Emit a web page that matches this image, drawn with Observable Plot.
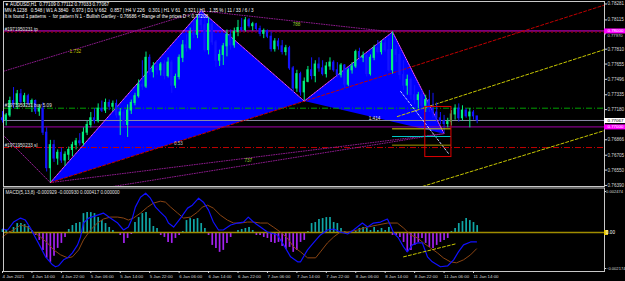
<!DOCTYPE html>
<html><head><meta charset="utf-8">
<script src="https://cdn.jsdelivr.net/npm/d3@7"></script>
<script src="https://cdn.jsdelivr.net/npm/@observablehq/plot@0.6"></script>
<style>
html,body{margin:0;padding:0;background:#000;}
#chart{position:relative;width:625px;height:281px;background:#000;overflow:hidden;}
#chart svg{position:absolute;left:0;display:block;}
</style></head><body><div id="chart"></div>
<script>
// ---------- candle data (AUDUSD H1, bar index 0 = 4 Jan 06:00) ----------
const opens = [.7709,.7707,.7712,.7727,.7723,.7734,.7726,.7732,.7724,.7727,
.7716,.7719,.7694,.7657,.7681,.7667,.7673,.7665,.7671,.7676,
.7681,.7685,.7683,.7694,.7702,.7709,.7706,.7719,.7717,.7725,
.7721,.7724,.7712,.7715,.7702,.7717,.7725,.7732,.7744,.7742,
.7772,.7757,.7763,.7759,.7765,.7753,.7767,.7743,.7752,.7772,
.7785,.7782,.7799,.7796,.7811,.7806,.7780,.7807,.7788,.7769,
.7775,.7784,.7796,.7785,.7799,.7803,.7801,.7811,.7805,.7807,
.7802,.7797,.7800,.7794,.7781,.7789,.7784,.7778,.7782,.7761,
.7740,.7755,.7736,.7747,.7759,.7753,.7765,.7761,.7755,.7763,
.7767,.7759,.7754,.7764,.7744,.7759,.7763,.7778,.7772,.7774,
.7755,.7772,.7782,.7778,.7787,.7780,.7759,.7780,.7775,.7754,
.7743,.7749,.7733,.7728,.7733,.7722,.7728,.7719,.7715,.7709,
.7706,.7703,.7705,.7713,.7719,.7709,.7717,.7711,.7715,.77109];
const highs = [.7716,.7714,.7731,.7741,.7738,.7739,.7735,.7734,.7729,.7728,
.7723,.7725,.7699,.7686,.7686,.7676,.7678,.7674,.7679,.7684,
.7688,.7693,.7699,.7706,.7715,.7719,.7724,.7727,.7729,.7728,
.7727,.7728,.7719,.7717,.7723,.7728,.7735,.7749,.7769,.7778,
.7775,.7767,.7769,.7767,.7769,.7772,.7769,.7755,.7775,.7790,
.7796,.7803,.7811,.7816,.7821,.7813,.7814,.7809,.7790,.7780,
.7787,.7801,.7801,.7803,.7811,.7813,.7814,.7813,.7809,.7808,
.7805,.7802,.7801,.7799,.7792,.7792,.7790,.7785,.7784,.7763,
.7759,.7757,.7751,.7763,.7772,.7769,.7772,.7769,.7767,.7772,
.7769,.7767,.7766,.7765,.7761,.7767,.7780,.7782,.7778,.7776,
.7775,.7785,.7790,.7790,.7792,.7792,.7799,.7785,.7780,.7769,
.7754,.7751,.7743,.7736,.7738,.7733,.7738,.7735,.7725,.7715,
.7712,.7709,.7717,.7723,.7724,.7722,.7719,.7719,.7717,.77112];
const lows = [.7704,.7701,.7710,.7719,.7718,.7724,.7721,.7722,.7715,.7713,
.7711,.7691,.7653,.7642,.7663,.7660,.7662,.7659,.7665,.7669,
.7676,.7680,.7680,.7691,.7699,.7703,.7704,.7715,.7714,.7717,
.7716,.7709,.7691,.7699,.7689,.7713,.7722,.7730,.7738,.7740,
.7754,.7751,.7754,.7753,.7749,.7751,.7735,.7740,.7749,.7767,
.7778,.7780,.7792,.7792,.7801,.7778,.7775,.7785,.7762,.7763,
.7764,.7773,.7780,.7782,.7794,.7799,.7799,.7803,.7800,.7800,
.7794,.7792,.7792,.7778,.7778,.7780,.7775,.7774,.7759,.7735,
.7736,.7732,.7727,.7746,.7749,.7746,.7757,.7753,.7751,.7759,
.7757,.7751,.7751,.7740,.7742,.7755,.7761,.7769,.7767,.7752,
.7753,.7769,.7776,.7775,.7778,.7757,.7755,.7767,.7749,.7738,
.7733,.7728,.7723,.7719,.7717,.7715,.7715,.7709,.7705,.7702,
.7693,.7699,.7701,.7707,.7705,.7706,.7709,.7699,.7707,.77033];
const closes = [.7707,.7712,.7727,.7723,.7734,.7726,.7732,.7724,.7727,.7716,
.7719,.7694,.7657,.7681,.7667,.7673,.7665,.7671,.7676,.7681,
.7685,.7683,.7694,.7702,.7709,.7706,.7719,.7717,.7725,.7721,
.7724,.7712,.7715,.7702,.7717,.7725,.7732,.7744,.7742,.7772,
.7757,.7763,.7759,.7765,.7753,.7767,.7743,.7752,.7772,.7785,
.7782,.7799,.7796,.7811,.7806,.7780,.7807,.7788,.7769,.7775,
.7784,.7796,.7785,.7799,.7803,.7801,.7811,.7805,.7807,.7802,
.7797,.7800,.7794,.7781,.7789,.7784,.7778,.7782,.7761,.7740,
.7755,.7736,.7747,.7759,.7753,.7765,.7761,.7755,.7763,.7767,
.7759,.7754,.7764,.7744,.7759,.7763,.7778,.7772,.7774,.7755,
.7772,.7782,.7778,.7787,.7780,.7759,.7780,.7775,.7754,.7743,
.7749,.7733,.7728,.7733,.7722,.7728,.7719,.7715,.7709,.7706,
.7703,.7705,.7713,.7719,.7709,.7717,.7711,.7715,.7711,.77067];

// ---------- MACD data ----------
const hist = [0.00018,0.00012,0.00006,0.0003,0.00054,0.00054,0.00048,0.00036,0.00012,-0.00018,
-0.00048,-0.00108,-0.00156,-0.0018,-0.00144,-0.00096,-0.00066,-0.0003,0.00018,0.00042,
0.00054,0.0006,0.00114,0.0012,0.0012,0.00114,0.0009,0.00072,0.00054,0.0003,
0.00012,-0.00006,-0.00018,-0.00066,-0.00036,-0.00012,0.0006,0.0009,0.00114,0.0012,
0.00084,0.00036,0.00024,-0.00018,-0.0003,-0.0006,-0.00066,-0.00036,-0.00018,0.00006,
0.00072,0.00084,0.00078,0.00084,0.00054,0.00024,-0.00018,-0.00078,-0.00096,-0.0012,
-0.00108,-0.00066,-0.0003,-0.00006,0.00012,0.00018,0.00024,0.0003,0.00012,-0.00018,
-0.00018,-0.0003,-0.00036,-0.0006,-0.00066,-0.0006,-0.00084,-0.00102,-0.0009,-0.0012,
-0.00108,-0.0006,-0.00048,0.00006,0.00054,0.0006,0.00078,0.00084,0.0009,0.0009,
0.0006,0.00054,0.00024,0.00006,0,-0.00006,0.00006,0.00024,0.0003,0.00024,
0.00012,0.0003,0.00012,0.00024,0.00012,0.0003,-0.00018,-0.00018,-0.0003,-0.0006,
-0.0012,-0.00108,-0.00078,-0.0006,-0.00036,-0.00066,-0.0009,-0.00096,-0.00078,-0.0006,
-0.00048,-0.00036,0.00006,0.00024,0.00054,0.00066,0.00084,0.00072,0.0006,0.000417];
const macdMain = [[0,0.00021],[1.4,0.00015],[3,0.00063],[4.9,0.00087],[6.2,0.00075],[7.6,0.00027],[9,-0.00033],[10.3,-0.00087],[11.7,-0.00147],[13.6,-0.00195],[14.4,-0.00207],[15.2,-0.00201],[16.6,-0.00165],[17.7,-0.00153],[19,-0.00123],[20.4,-0.00075],[21.2,-0.00027],[22,0.00057],[23.4,0.00087],[25.8,0.00105],[27.4,0.00117],[29.3,0.00087],[31.3,0.00057],[32.9,0.00015],[34.2,0.00033],[35.3,0.00087],[36.1,0.00153],[37.5,0.00213],[38.9,0.00237],[40.2,0.00207],[41.6,0.00153],[42.9,0.00123],[44.3,0.00093],[45.1,0.00057],[46.5,0.00033],[48.4,0.00087],[50.3,0.00147],[51.6,0.00165],[53.3,0.00207],[54.6,0.00183],[56,0.00135],[57.3,0.00063],[58.7,0.00015],[60,0.00015],[62,0.00045],[63.9,0.00057],[65.5,0.00063],[66.8,0.00093],[68.2,0.00063],[70.1,0.00033],[72,0.00003],[74.7,-0.00015],[76.4,-0.00075],[78.3,-0.00147],[80.2,-0.00177],[81,-0.00177],[82.9,-0.00105],[84.5,-0.00063],[86.4,-0.00015],[88.3,0.00015],[90,0.00021],[91.8,0.00003],[93.8,-0.00009],[95.4,0.00015],[97.8,0.00057],[99.2,0.00033],[100.8,0.00057],[102.7,0.00063],[104.6,0.00081],[105.4,0.00045],[106.3,-0.00003],[107.6,-0.00033],[109,-0.00087],[110,-0.00117],[111.4,-0.00075],[112.8,-0.00063],[114.1,-0.00063],[115.5,-0.00147],[116.8,-0.00177],[119,-0.00207],[121,-0.00201],[122.6,-0.00165],[123.9,-0.00117],[125.3,-0.00075],[127.2,-0.00057],[128.8,-0.00057]];
const macdSignal = [[0,-0.00027],[1.4,-0.00003],[3,0.00015],[4.9,0.00045],[6.8,0.00033],[8.4,0.00003],[10.3,-0.00027],[12.2,-0.00063],[13.9,-0.00105],[15.8,-0.00135],[17.7,-0.00153],[19,-0.00147],[20.7,-0.00105],[22,-0.00045],[23.9,0.00015],[25.8,0.00057],[27.4,0.00081],[29.3,0.00093],[31.3,0.00093],[32.9,0.00087],[34.2,0.00075],[35.6,0.00087],[37.5,0.00117],[39.4,0.00153],[41,0.00177],[42.9,0.00189],[44.3,0.00183],[45.7,0.00153],[47.6,0.00117],[49.2,0.00087],[51.1,0.00093],[53,0.00123],[54.3,0.00153],[55.7,0.00165],[57.3,0.00147],[59.2,0.00105],[61.1,0.00075],[62.8,0.00057],[64.7,0.00057],[66.6,0.00063],[68.2,0.00063],[70.1,0.00057],[72,0.00057],[73.6,0.00033],[75.5,0.00003],[77.4,-0.00033],[79.1,-0.00087],[81,-0.00117],[82.9,-0.00153],[85.1,-0.00153],[86.4,-0.00117],[88.3,-0.00063],[90,-0.00027],[91.8,0.00003],[93.8,0.00003],[96.5,0.00015],[99.2,0.00033],[101.9,0.00045],[104.6,0.00057],[107.3,0.00057],[109,0.00027],[110.9,-0.00015],[112.8,-0.00033],[114.4,-0.00063],[116.3,-0.00093],[118.2,-0.00123],[119.8,-0.00153],[121.7,-0.00177],[123.4,-0.00183],[125.3,-0.00165],[127.2,-0.00135],[128.8,-0.00099]];
const macdDivergence = [[109,-0.00147],[123.1,-0.00069]];

// ---------- pattern / objects ----------
const patBar = [13, 54, 82, 106, 120];           // X A B C D
const patPrice = [0.7642, 0.7821, 0.7727, 0.7799, 0.7693];
const xbLine = [[13, 0.7642], [163.6, 0.7827]];
const channelUpper = [[107.3, 0.77108], [163.6, 0.77806]];
const channelLower = [[114.1, 0.76379], [163.6, 0.76962]];
const dotPre = [[0.3, 0.7691], [13, 0.7642]];
const dotAC = [[0.3, 0.7758], [54, 0.7821], [106, 0.7799]];
const dotXD = [[13, 0.7642], [120, 0.7693]];
const dotLowD = [[30, 0.76379], [120, 0.7693]];
const whiteDash = [[108.2, 0.77369], [121.2, 0.76723]];
const dZoneLevels = [0.7698, 0.7690, 0.7681];
const dZoneColors = ["#d0d000", "#00c8c8", "#a09a00"];
const dZoneBars = [106, 122];
const dBox = {bar1: 114.9, bar2: 122, lo: 0.76686, hi: 0.77208};
const tpLevel = 0.78000, tpOrderLevel = 0.77988, buyLevel = 0.77195, bidLevel = 0.77067, level77 = 0.77000, slLevel = 0.76785;
const fibText = ["1.732", "788", "1.414", "0.53", "737"];
const fibBar = [19.8, 79.9, 101.1, 47.8, 66.8];
const fibPrice = [0.77786, 0.78067, 0.77087, 0.76827, 0.7665];
const fibColor = ["#c8c800", "#9acd32", "#e0e0e0", "#c0c0c0", "#9acd32"];

const priceTicks = [0.78281,0.78115,0.77810,0.77655,0.77496,0.77335,0.77180,0.76866,0.76705,0.76550,0.76390];
const priceTickNearBox = [0.77970];
const priceBoxes = [0.78000, 0.77067, 0.77000];
const priceBoxFill = ["#ff00ff", "#ffffff", "#ff00ff"];
const priceBoxText = ["#ffffff", "#000000", "#ffffff"];
const macdTicks = [0.002474, -0.002174];
const timeTicks = [0,8,16,24,32,40,48,56,64,72,80,88,96,104,112,120,128];
const timeLabels = ["4 Jan 2021","4 Jan 14:00","4 Jan 22:00","5 Jan 06:00","5 Jan 14:00","5 Jan 22:00","6 Jan 06:00","6 Jan 14:00","6 Jan 22:00","7 Jan 06:00","7 Jan 14:00","7 Jan 22:00","8 Jan 06:00","8 Jan 14:00","8 Jan 22:00","11 Jan 06:00","11 Jan 14:00"];
const headerRow1 = "▼ AUDUSD,H1  0.77109 0.77112 0.77033 0.77067";
const headerRow2 = "MN A 1238   0.548 | W1 A 3840   0.973 | D1 V 662   0.857 | H4 V 226   0.301 | H1 V 61   0.321 | H1   1.35 % | 11 / 33 / 6 / 3";
const headerRow3 = "It is found 1 patterns  -  for pattern N 1 - Bullish Gartley - 0.76686 < Range of the prices D < 0.77208";
const macdTitle = "MACD(5,13,8) -0.000929 -0.000930 0.000417 0.000000";

// ---------- drawing ----------
const FONT = "'Liberation Sans', Arial, sans-serif";
const xDomain = [0, 163.6], xRange = [2, 604];
const barPx = (xRange[1] - xRange[0]) / (xDomain[1] - xDomain[0]);
const bars = d3.range(closes.length);
const BULL = "#00f080", BEAR = "#1414ff";
const col = i => closes[i] >= opens[i] ? BULL : BEAR;
const P = i => [patBar[i], patPrice[i]];
const tri1 = [P(0), P(1), P(2)], tri2 = [P(2), P(3), P(4)];
const zig = [0,1,2,3,4].map(P);
const fx = d => d[0], fy = d => d[1];
const f5 = d3.format(".5f");
const fs = 4.6;
const headerMark = (t, dy) => Plot.text([t], {frameAnchor: "top-left", dx: 1, dy, textAnchor: "start", lineAnchor: "middle", fill: "#ffffff", fontSize: fs});

const main = Plot.plot({
  width: 625, height: 187, marginTop: 1, marginBottom: 1, marginLeft: 3, marginRight: 21,
  style: {background: "#000", color: "#d8d8d8", fontFamily: FONT, fontSize: fs + "px", overflow: "visible"},
  x: {domain: xDomain, range: xRange, axis: null},
  y: {domain: [0.76379, 0.78307], range: [186, 1], axis: null},
  marks: [
    Plot.line(tri1, {x: fx, y: fy, fill: "#0000ff", stroke: "none"}),
    Plot.line(tri2, {x: fx, y: fy, fill: "#0000ff", stroke: "none"}),
    Plot.ruleY([tpLevel], {stroke: "#e000e0", strokeWidth: 1}),
    Plot.ruleY([tpOrderLevel], {stroke: "#a00000", strokeDasharray: "2,2"}),
    Plot.ruleY([buyLevel], {stroke: "#00a000", strokeDasharray: "6,2,1,2"}),
    Plot.ruleY([bidLevel], {stroke: "#8a8aa6", strokeWidth: 1}),
    Plot.ruleY([level77], {stroke: "#a000a8", strokeWidth: 1}),
    Plot.ruleY([slLevel], {stroke: "#c00000", strokeDasharray: "6,2,1,2"}),
    Plot.line(dotPre, {x: fx, y: fy, stroke: "#a020a0", strokeDasharray: "1,1.5", strokeWidth: 1}),
    Plot.line(dotAC, {x: fx, y: fy, stroke: "#8a1a8a", strokeDasharray: "1,1.5", strokeWidth: 1}),
    Plot.line(dotXD, {x: fx, y: fy, stroke: "#8a1a8a", strokeDasharray: "1,1.5", strokeWidth: 1}),
    Plot.line(dotLowD, {x: fx, y: fy, stroke: "#8a1a8a", strokeDasharray: "1,1.5", strokeWidth: 1}),
    Plot.line(xbLine, {x: fx, y: fy, stroke: "#c00000", strokeDasharray: "3,2", strokeWidth: 1}),
    Plot.line(channelUpper, {x: fx, y: fy, stroke: "#c8c800", strokeDasharray: "3,2", strokeWidth: 1}),
    Plot.line(channelLower, {x: fx, y: fy, stroke: "#c8c800", strokeDasharray: "3,2", strokeWidth: 1}),
    Plot.line(zig, {x: fx, y: fy, stroke: "#ff50ff", strokeDasharray: "1,1", strokeWidth: 1}),
    Plot.ruleX(bars, {x: i => i, y1: i => lows[i], y2: i => highs[i], stroke: col, strokeWidth: 1}),
    Plot.rect(bars, {x1: i => i - 0.3, x2: i => i + 0.3, y1: i => opens[i], y2: i => closes[i], fill: col, insetTop: -0.5, insetBottom: -0.5}),
    Plot.line(whiteDash, {x: fx, y: fy, stroke: "#c8d0ff", strokeDasharray: "2,2", strokeWidth: 1}),
    Plot.ruleY(dZoneLevels, {y: d => d, x1: dZoneBars[0], x2: dZoneBars[1], stroke: (d, i) => dZoneColors[i], strokeWidth: 1}),
    Plot.rect([dBox], {x1: "bar1", x2: "bar2", y1: "lo", y2: "hi", fill: "none", stroke: "#e00000", strokeWidth: 1}),
    Plot.text(fibText, {x: (d, i) => fibBar[i], y: (d, i) => fibPrice[i], text: d => d, fill: (d, i) => fibColor[i], fontSize: fs}),
    Plot.text(["#1971950231 tp"], {x: 0.6, y: tpLevel, dy: -1.8, textAnchor: "start", fill: "#e0e0e0", fontSize: fs}),
    Plot.text(["#1971950231 buy 5.09"], {x: 0.6, y: buyLevel, dy: -2.5, textAnchor: "start", fill: "#e0e0e0", fontSize: fs}),
    Plot.text(["#1971950233 sl"], {x: 0.6, y: slLevel, dy: -2, textAnchor: "start", fill: "#e0e0e0", fontSize: fs}),
    headerMark(headerRow1, 3.4),
    headerMark(headerRow2, 9.4),
    headerMark(headerRow3, 15),
    Plot.frame({stroke: "#c8c8c8"}),
    Plot.axisY(priceTicks, {anchor: "right", tickSize: 2, tickPadding: 1, tickFormat: f5, fontSize: fs, color: "#d8d8d8"}),
    Plot.ruleY(priceTickNearBox, {y: d => d, x1: xDomain[1], x2: xDomain[1] + 2 / barPx, stroke: "#d8d8d8"}),
    Plot.text(priceTickNearBox, {x: xDomain[1], y: d => d, text: f5, dx: 3, dy: 1.6, textAnchor: "start", fill: "#d8d8d8", fontSize: 4.2}),
    Plot.ruleY(priceBoxes, {y: d => d, x1: xDomain[1], x2: xDomain[1] + 21 / barPx, stroke: (d, i) => priceBoxFill[i], strokeWidth: 5}),
    Plot.text(priceBoxes, {x: xDomain[1], y: d => d, text: f5, dx: 3, textAnchor: "start", fill: (d, i) => priceBoxText[i], fontSize: 4.4})
  ]
});

const macd = Plot.plot({
  width: 625, height: 94, marginTop: 0.5, marginBottom: 10, marginLeft: 3, marginRight: 21,
  style: {background: "#000", color: "#d8d8d8", fontFamily: FONT, fontSize: fs + "px", overflow: "visible"},
  x: {domain: xDomain, range: xRange, axis: null},
  y: {domain: [-0.002174, 0.002474], range: [81, 4], axis: null},
  marks: [
    Plot.ruleX(bars, {x: i => i, y1: 0, y2: i => hist[i], stroke: i => hist[i] >= 0 ? "#10a6a6" : "#a422f2", strokeWidth: 1.7}),
    Plot.ruleY([0], {stroke: "#a08c00", strokeWidth: 1.5}),
    Plot.line(macdSignal, {x: fx, y: fy, stroke: "#8b4513", strokeWidth: 1}),
    Plot.line(macdMain, {x: fx, y: fy, stroke: "#1010ff", strokeWidth: 1.2}),
    Plot.line(macdDivergence, {x: fx, y: fy, stroke: "#c8c800", strokeDasharray: "3,2", strokeWidth: 1}),
    Plot.text([macdTitle], {frameAnchor: "top-left", dx: 2, dy: 5, textAnchor: "start", lineAnchor: "middle", fill: "#e0e0e0", fontSize: fs}),
    Plot.frame({stroke: "#c8c8c8"}),
    Plot.axisX(timeTicks, {anchor: "bottom", tickSize: 2, tickPadding: 1, textAnchor: "start", tickFormat: d => timeLabels[timeTicks.indexOf(d)], fontSize: 4.4, color: "#d8d8d8"}),
    Plot.axisY(macdTicks, {anchor: "right", tickSize: 1, tickPadding: 0.5, tickFormat: d3.format(".6f"), fontSize: 4.1, color: "#d8d8d8"}),
    Plot.ruleY([0], {x1: xDomain[1], x2: xDomain[1] + 4 / barPx, stroke: "#e8c800", strokeWidth: 5}),
    Plot.text([0], {x: xDomain[1], y: 0, text: () => "0.00", dx: 1.5, textAnchor: "start", fill: "#ffffff", fontSize: fs})
  ]
});

const root = document.getElementById("chart");
main.style.top = "0px";
macd.style.top = "187px";
root.appendChild(main);
root.appendChild(macd);
</script>
</body></html>
